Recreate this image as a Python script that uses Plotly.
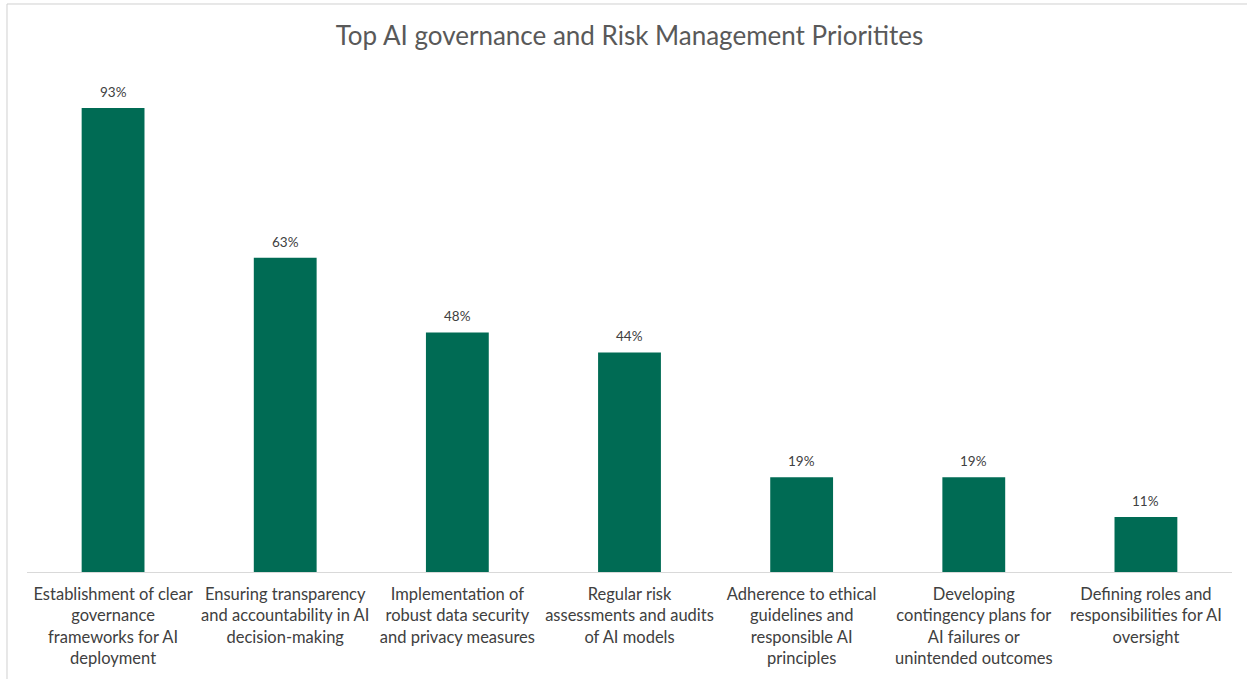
import plotly.graph_objects as go

categories = [
    "Establishment of clear<br>governance<br>frameworks for AI<br>deployment",
    "Ensuring transparency<br>and accountability in AI<br>decision-making",
    "Implementation of<br>robust data security<br>and privacy measures",
    "Regular risk<br>assessments and audits<br>of AI models",
    "Adherence to ethical<br>guidelines and<br>responsible AI<br>principles",
    "Developing<br>contingency plans for<br>AI failures or<br>unintended outcomes",
    "Defining roles and<br>responsibilities for AI<br>oversight",
]
values = [93, 63, 48, 44, 19, 19, 11]
labels = [f"{v}%" for v in values]

fig = go.Figure(
    go.Bar(
        x=categories,
        y=values,
        marker=dict(color="#006B54", line=dict(width=0)),
        hoverinfo="x+y",
    )
)

annotations = [
    dict(
        x=c,
        y=v,
        xref="x",
        yref="y",
        text=t,
        showarrow=False,
        yanchor="middle",
        yshift=16,
        font=dict(family="Lato", size=13.5, color="#404040"),
    )
    for c, v, t in zip(categories, values, labels)
]

fig.update_layout(
    width=1247,
    height=679,
    margin=dict(l=27, r=15, t=73, b=107),
    paper_bgcolor="white",
    plot_bgcolor="white",
    bargap=0.635,
    showlegend=False,
    annotations=annotations,
    title=dict(
        text="Top AI governance and Risk Management Prioritites",
        x=0.5,
        xref="paper",
        xanchor="center",
        y=0.947,
        yanchor="middle",
        font=dict(family="Lato", size=26, color="#595959"),
    ),
    xaxis=dict(
        showline=True,
        linecolor="#d9d9d9",
        linewidth=1,
        ticks="",
        ticklabelstandoff=7,
        tickfont=dict(family="Lato", size=16.5, color="#404040"),
        showgrid=False,
    ),
    yaxis=dict(
        range=[0, 100],
        visible=False,
        showgrid=False,
    ),
    shapes=[
        dict(
            type="rect",
            xref="paper",
            yref="paper",
            x0=-0.0166,
            x1=1.1,
            y0=-0.4,
            y1=1.1383,
            line=dict(color="#d0d0d0", width=1),
            fillcolor="rgba(0,0,0,0)",
            layer="below",
        )
    ],
)

fig.write_html("out.html")
